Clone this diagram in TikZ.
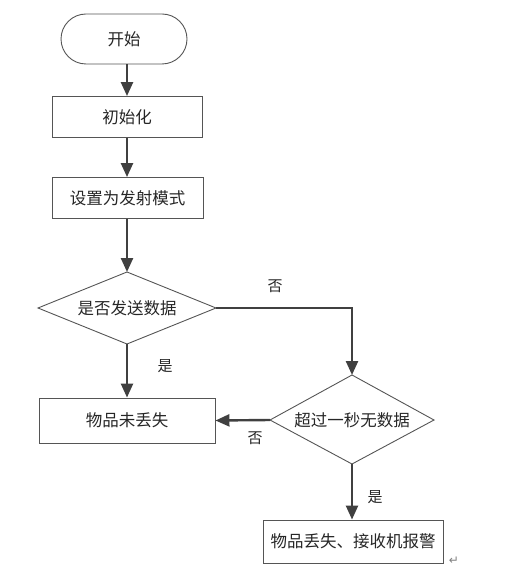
\documentclass[tikz,border=0pt]{standalone}
\usepackage{fontspec}
\newfontfamily\cjk{Noto Sans CJK SC}
\newfontfamily\sym{DejaVu Sans}
\usetikzlibrary{arrows.meta,shapes.geometric}
\definecolor{edge}{HTML}{555555}
\definecolor{arr}{HTML}{404040}
\tikzset{
  box/.style={draw=edge,line width=0.9pt,minimum width=#1,minimum height=41pt,inner sep=0pt,font=\cjk\fontsize{16.5}{16.5}\selectfont,text=black!85},
  box/.default=150pt,
  term/.style={box=126pt,minimum height=50pt,rounded corners=25pt},
  lab/.style={font=\cjk\fontsize{16.5}{16.5}\selectfont,text=black!85},
  flow/.style={draw=arr,line width=2.4pt,-{Triangle[width=12pt,length=14pt]}}
}
\begin{document}
\begin{tikzpicture}[x=1pt,y=-1pt]
\useasboundingbox (0,0) rectangle (504,577);
\node[term] (start) at (124,39) {开始};
\node[box=150pt] (init) at (127,117) {初始化};
\node[box=151pt] (mode) at (127.5,198) {设置为发射模式};
\draw[edge,line width=0.9pt] (38,308) -- (127,272) -- (216,308) -- (127,344) -- cycle;
\node[lab] (d1) at (127,308) {是否发送数据};
\coordinate (d1t) at (127,272);
\coordinate (d1r) at (216,308);
\coordinate (d1b) at (127,344);
\node[box=176pt,minimum height=45pt] (ok) at (127,420.5) {物品未丢失};
\draw[edge,line width=0.9pt] (270,420) -- (352,375) -- (434,420) -- (352,464) -- cycle;
\node[lab] (d2) at (352,420) {超过一秒无数据};
\coordinate (d2t) at (352,375);
\coordinate (d2l) at (270,420);
\coordinate (d2b) at (352,464);
\node[box=180pt,minimum height=43pt] (lost) at (353,541.5) {物品丢失、接收机报警};
\node[font=\sym\fontsize{12}{12}\selectfont,text=black!50] (ret) at (454,561) {↵};
\draw[flow] (init.north |- start.south) -- (init.north);
\draw[flow] (init.south) -- (init.south |- mode.north);
\draw[flow] (init.south |- mode.south) -- (d1t);
\draw[flow] (d1b) -- (ok.north);
\draw[flow] (d1r) -| (d2t);
\draw[flow] (d2l) -- (ok.east);
\draw[flow] (d2b) -- (lost.north -| d2b);
\node[lab,font=\cjk\fontsize{15}{15}\selectfont] (n1) at (275,286) {否};
\node[lab,font=\cjk\fontsize{15}{15}\selectfont] (y1) at (165,366) {是};
\node[lab,font=\cjk\fontsize{15}{15}\selectfont] (n2) at (255,438) {否};
\node[lab,font=\cjk\fontsize{15}{15}\selectfont] (y2) at (375,497) {是};
\end{tikzpicture}
\end{document}
